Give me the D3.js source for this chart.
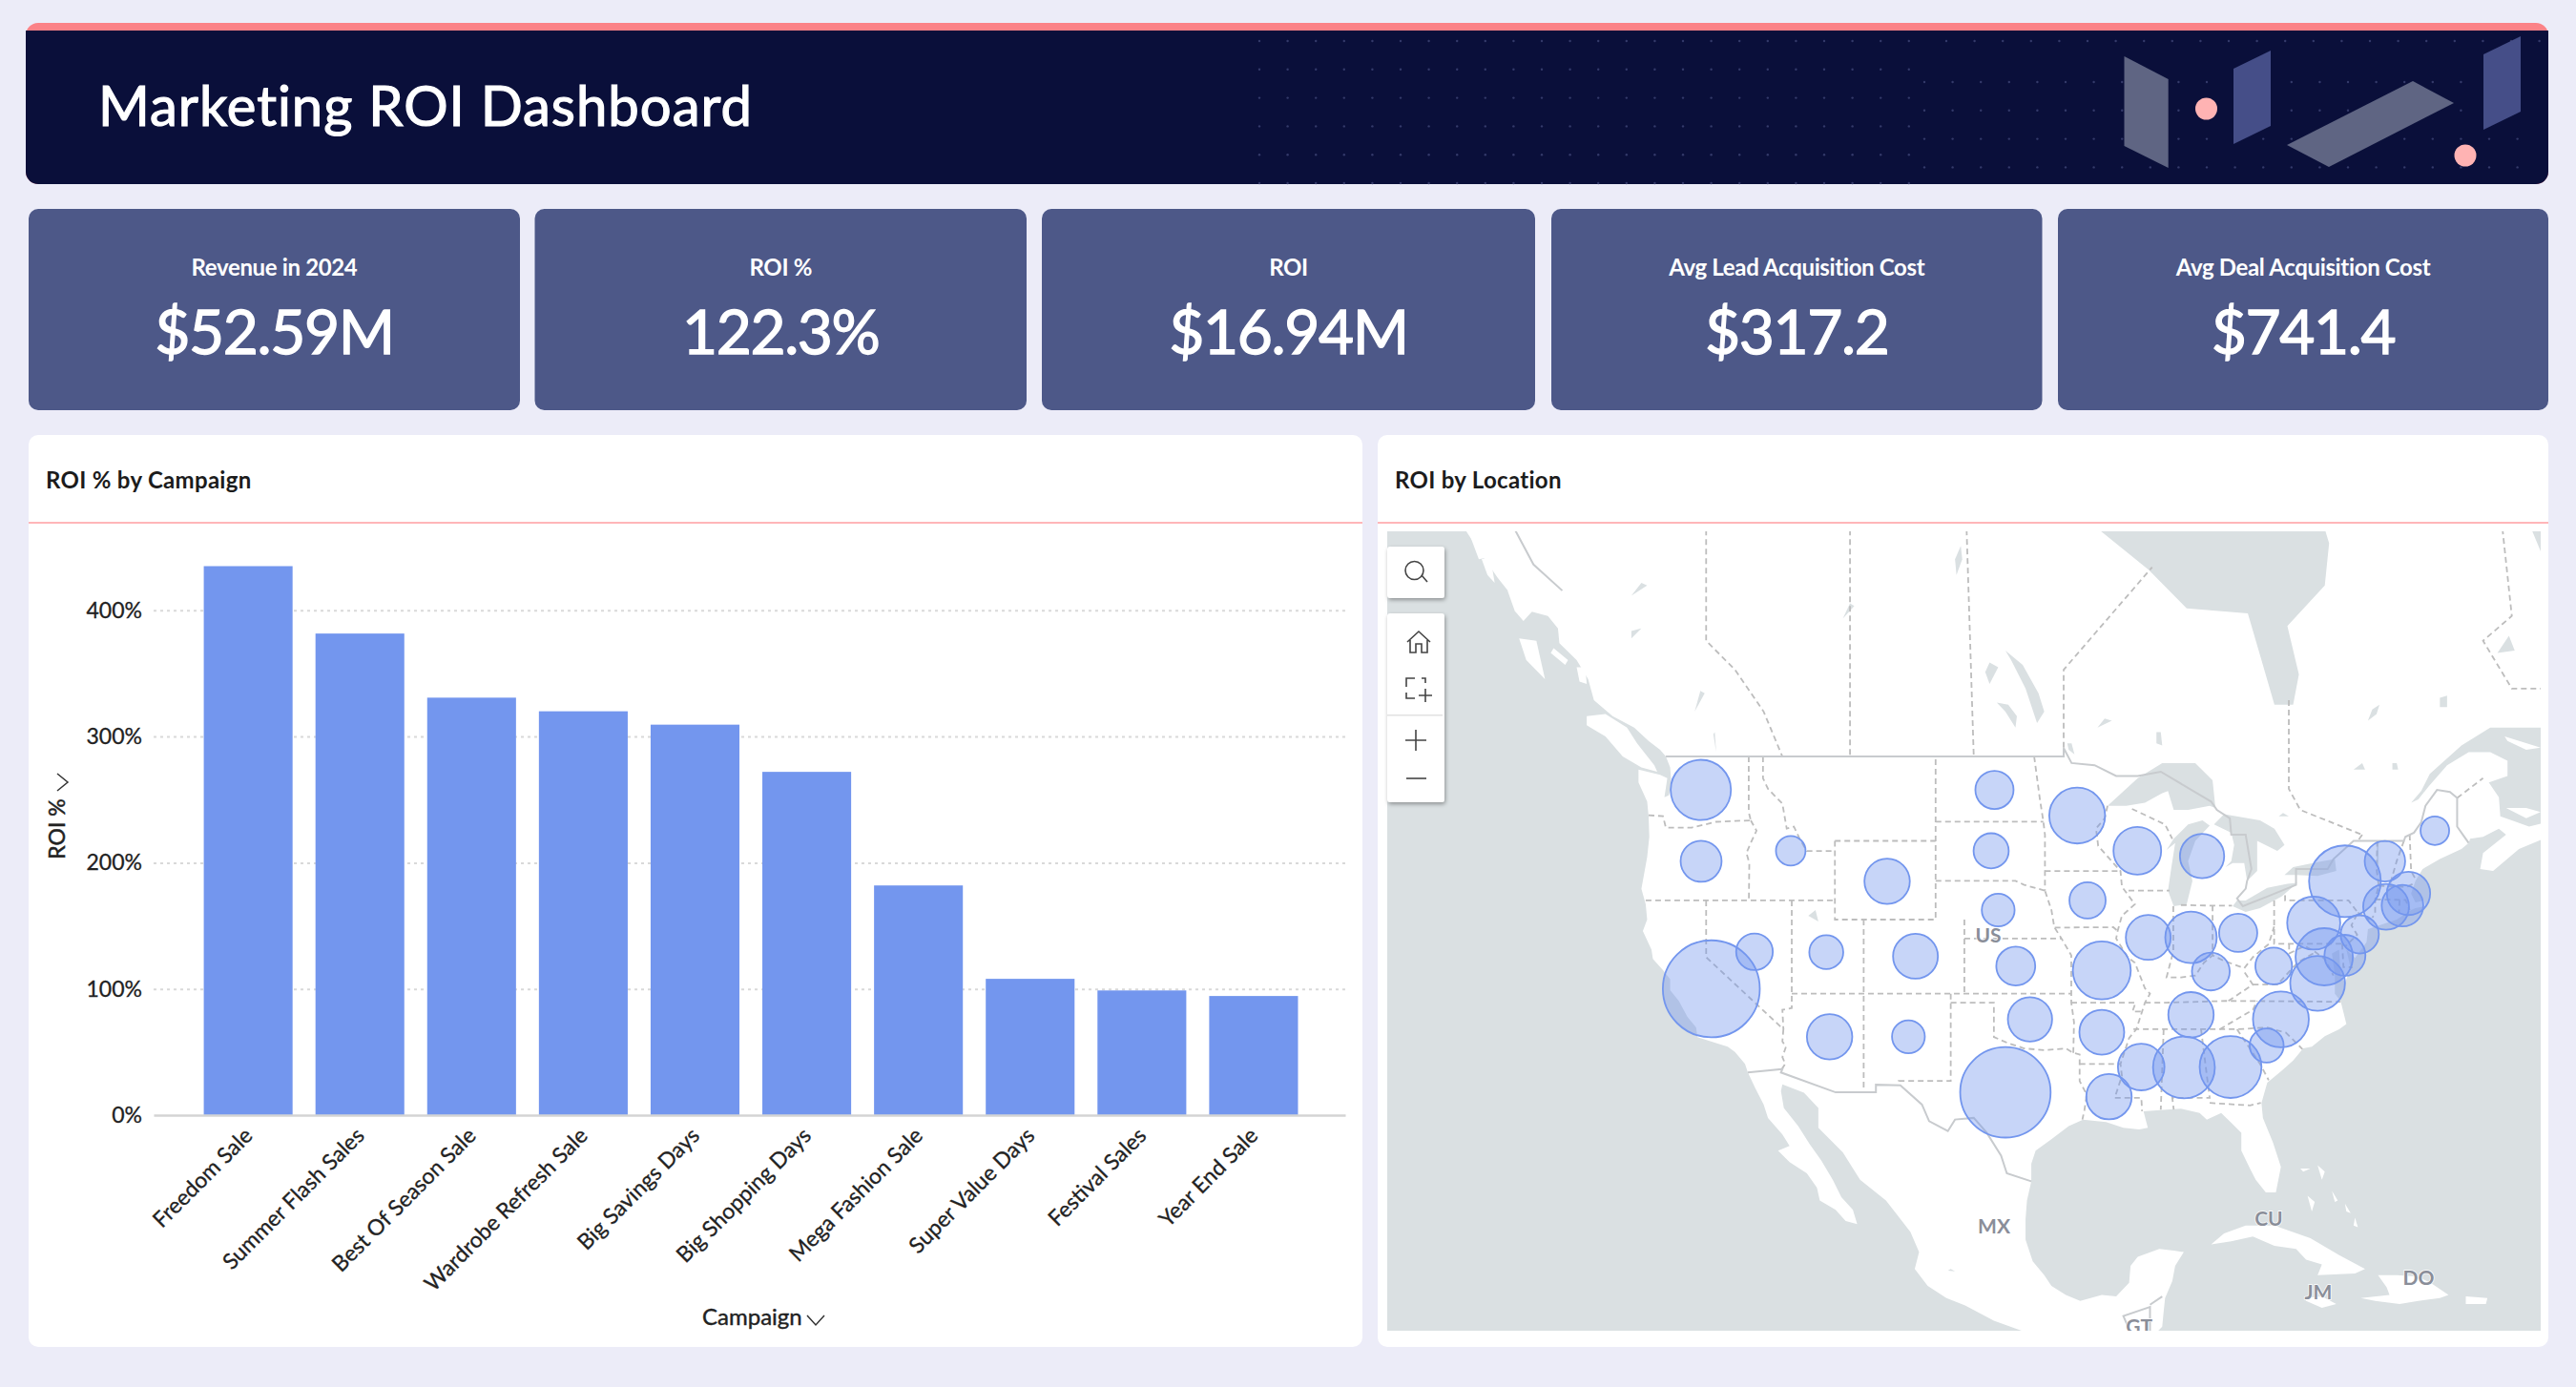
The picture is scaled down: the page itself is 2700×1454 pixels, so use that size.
<!DOCTYPE html>
<html>
<head>
<meta charset="utf-8">
<title>Marketing ROI Dashboard</title>
<script src="https://cdn.jsdelivr.net/npm/d3@7"></script>
<style>
  html, body { margin: 0; padding: 0; background: #ececf8; }
  svg { display: block; font-family: Lato, sans-serif; }
</style>
</head>
<body>
<div class="canvas"></div>
<script>
// KPI cards
const kpiLabels = ['Revenue in 2024', 'ROI %', 'ROI', 'Avg Lead Acquisition Cost', 'Avg Deal Acquisition Cost']
const kpiValues = ['$52.59M', '122.3%', '$16.94M', '$317.2', '$741.4']

// bar chart
const campaigns = ['Freedom Sale', 'Summer Flash Sales', 'Best Of Season Sale', 'Wardrobe Refresh Sale', 'Big Savings Days',
  'Big Shopping Days', 'Mega Fashion Sale', 'Super Value Days', 'Festival Sales', 'Year End Sale']
const roiPercent = [435, 381.6, 330.8, 320, 309.4, 272, 182, 108, 98.8, 94.4]
const roiTicks = [0, 100, 200, 300, 400]

// bubble map: [lon, lat] of each state and its ROI in $K
const states = ['WA', 'OR', 'ID', 'WY', 'ND', 'SD', 'NE', 'MN', 'WI', 'MI', 'IA', 'IL', 'IN', 'OH', 'KY', 'WV', 'VA', 'PA', 'NY', 'VT', 'ME', 'MA', 'CT', 'RI', 'NJ', 'DE', 'MD', 'NC', 'SC', 'GA', 'AL', 'MS', 'LA', 'AR', 'TN', 'MO', 'KS', 'OK', 'TX', 'NM', 'AZ', 'CO', 'UT', 'NV', 'CA']
const stateLonLat = [[-120.37, 47.45], [-120.35, 43.99], [-114.12, 44.51], [-107.42, 42.98], [-99.96, 47.45], [-100.19, 44.51], [-99.7, 41.5], [-94.21, 46.23], [-90.03, 44.51], [-85.53, 44.25], [-93.49, 42], [-89.27, 40.06], [-86.3, 40.06], [-83.02, 40.3], [-84.92, 38.22], [-80.55, 38.52], [-77.5, 37.57], [-77.77, 40.82], [-75.6, 42.98], [-72.82, 43.99], [-69.35, 45.5], [-71.18, 42.36], [-72.74, 41.67], [-71.6, 41.73], [-74.57, 40.22], [-75.6, 39.1], [-77.04, 39.02], [-80.05, 35.56], [-81.04, 34.07], [-83.55, 32.82], [-86.79, 32.8], [-89.76, 32.82], [-92, 31.07], [-92.5, 34.83], [-86.3, 35.82], [-92.5, 38.28], [-98.48, 38.52], [-97.49, 35.56], [-99.2, 31.33], [-105.94, 34.57], [-111.42, 34.57], [-105.45, 39.05], [-111.65, 39.27], [-116.64, 39.29], [-119.64, 37.27]]
const stateRoi = [573, 265, 138, 325, 230, 195, 170, 492, 359, 309, 207, 317, 418, 230, 225, 212, 473, 444, 812, 258, 129, 296, 331, 273, 230, 265, 517, 492, 182, 603, 603, 342, 325, 317, 325, 530, 239, 309, 1290, 170, 325, 317, 182, 212, 1482]

const countryLabels = [['US', -100.39, 40.05], ['MX', -99.99, 22.9], ['CU', -80.9, 23.4], ['JM', -77.45, 18.66], ['DO', -70.48, 19.6], ['GT', -89.9, 16.35]]

// base map outlines, all [lon, lat]
const mainland = [[-150, 62], [-145, 60.5], [-140, 59.7], [-137.5, 58.9], [-136.5, 58.1], [-135.5, 57.3], [-134.5, 56.5], [-133.5, 55.8], [-132.3, 55.2], [-131, 55], [-130.3, 54.5], [-130.2, 53.9], [-129, 53.2], [-128.2, 52.4], [-127.8, 51.5], [-126.5, 50.8], [-125, 50.3], [-124, 49.7], [-123.2, 49.3], [-122.8, 49], [-122.5, 48.5], [-122.4, 47.6], [-122.6, 47.2], [-122.9, 47.1], [-122.7, 48], [-123.2, 48.15], [-124.7, 48.4], [-124.7, 47.8], [-124.1, 46.9], [-124, 46.2], [-123.95, 45.2], [-124.1, 44.2], [-124.4, 43], [-124.5, 42.6], [-124.2, 41.8], [-124.1, 41], [-124.4, 40.4], [-123.8, 39.4], [-123.7, 38.9], [-123, 38.3], [-122.5, 37.8], [-122.5, 37.2], [-121.9, 36.6], [-121.3, 35.7], [-120.7, 35.1], [-120.6, 34.55], [-119.3, 34.2], [-118.5, 34], [-118, 33.7], [-117.3, 33], [-117.1, 32.5], [-116.6, 31.6], [-116, 30.6], [-115.7, 29.8], [-114.7, 28.8], [-114.2, 28.1], [-115, 27.8], [-114.2, 27.1], [-113, 26.4], [-112.3, 25.5], [-112.1, 24.7], [-111, 24.1], [-110.3, 23.4], [-109.5, 23.2], [-109.8, 24.1], [-110.6, 24.9], [-111.2, 26], [-112, 27.2], [-112.8, 28.2], [-113.6, 29.3], [-114.6, 30.4], [-114.8, 31.4], [-114.7, 31.8], [-113.2, 31.3], [-112.2, 30.4], [-112.2, 29.2], [-110.5, 27.7], [-109.3, 26], [-107.5, 24.7], [-105.8, 22.7], [-105.2, 21.4], [-105.5, 20.3], [-104.6, 19.2], [-103.3, 18.4], [-102, 17.9], [-100, 16.9], [-98, 16.2], [-96, 15.7], [-94.8, 16.2], [-93.5, 15.6], [-92, 14.6], [-91, 13.9], [-88, 13.2], [-85, 11], [-83.7, 10.8], [-83.5, 12.5], [-83.2, 14.9], [-84.5, 15.8], [-86, 15.9], [-88, 15.8], [-88.9, 15.9], [-88.3, 16.5], [-88.2, 17.5], [-88.1, 18.4], [-87.6, 19.5], [-87.4, 20.5], [-86.8, 21.4], [-87.5, 21.5], [-88.5, 21.6], [-90, 21.1], [-90.5, 20.5], [-90.6, 19.4], [-91.5, 18.5], [-92.5, 18.6], [-94, 18.2], [-95, 18.6], [-96, 19.2], [-96.5, 19.9], [-97.3, 20.8], [-97.8, 22.2], [-97.8, 23.5], [-97.7, 24.7], [-97.4, 25.9], [-97.4, 27], [-97.1, 27.8], [-96, 28.5], [-94.8, 29.3], [-93.8, 29.7], [-92.2, 29.55], [-91, 29.2], [-89.9, 29.1], [-89.3, 29.2], [-89.6, 30.2], [-88, 30.3], [-87, 30.35], [-85.7, 30.1], [-85.2, 29.7], [-84.2, 30.1], [-83.5, 29.5], [-82.8, 28.9], [-82.8, 27.8], [-82.2, 26.7], [-81.8, 26], [-81.1, 25.2], [-80.4, 25.2], [-80.05, 26.8], [-80.6, 28.3], [-81.3, 29.8], [-81.4, 30.7], [-81, 31.9], [-80, 32.6], [-79.2, 33.2], [-78.5, 33.9], [-77.9, 34], [-77, 34.6], [-76, 35], [-75.5, 35.3], [-75.9, 36.6], [-76.3, 37], [-76.3, 38], [-76.5, 39.2], [-76, 39.4], [-75.9, 38], [-75.6, 37.6], [-75.2, 38.4], [-75.5, 39.4], [-74.9, 38.95], [-74.1, 39.8], [-74, 40.5], [-72, 41], [-71, 41.5], [-70.7, 41.6], [-70, 41.7], [-70.1, 42], [-70.7, 41.9], [-71, 42.35], [-70.7, 43], [-70.2, 43.6], [-69, 44.1], [-67.5, 44.6], [-67, 44.9], [-66.9, 45.1], [-66, 45.2], [-64.9, 45.6], [-64.4, 45.3], [-66, 44.4], [-66.2, 43.6], [-65.3, 43.5], [-63.5, 44.6], [-61.5, 45.2], [-60, 45.9], [-60.5, 47], [-61.3, 45.95], [-62.8, 45.7], [-64, 46], [-64.8, 46.2], [-64.9, 47.1], [-65.6, 47.8], [-64.3, 48.1], [-64.3, 48.8], [-65.5, 49.2], [-67, 49.2], [-68.5, 48.6], [-69.8, 47.6], [-70.5, 47], [-71, 46.85], [-70.3, 47.4], [-69.7, 48.2], [-67.5, 49.5], [-65.5, 50.3], [-62, 50.3], [-60, 50.2], [-57, 51.5], [-55.5, 52.5], [-56, 54], [-60, 55.5], [-62, 57.5], [-64, 60], [-65, 60.5], [-70, 61], [-78, 62.5], [-78, 60], [-76.7, 57.8], [-77, 56.2], [-79.6, 54.6], [-78.8, 52.6], [-79.2, 51.3], [-80.5, 51.3], [-81.4, 53.2], [-82.35, 55.1], [-86.6, 55.3], [-89.25, 56.8], [-92.7, 58.3], [-94, 58.7], [-95, 60], [-94, 62], [-90, 64], [-95, 70], [-150, 70]]

const islands = [
  [[-128.3, 50.8], [-127, 50.9], [-125.5, 50.3], [-124.8, 49.6], [-123.6, 48.6], [-123.4, 48.3], [-124.5, 48.5], [-125.8, 49], [-127, 49.9], [-128.3, 50.4]],
  [[-133, 54.1], [-131.8, 54], [-131.2, 52.4], [-132.5, 53.2]],
  [[-136.5, 58.2], [-135, 58.1], [-134.9, 57.3], [-135.8, 57.2]],
  [[-134.7, 58], [-134, 58], [-133.9, 57.1], [-134.6, 57.1]],
  [[-135.6, 57.2], [-135, 57.3], [-134.7, 56.3], [-135.2, 56.6]],
  [[-134, 56.9], [-133, 57], [-133, 56.2], [-133.8, 56.1]],
  [[-133.8, 56], [-132.2, 56.1], [-131.9, 55.3], [-132.7, 54.8], [-133.3, 55.2]],
  [[-132.2, 56.4], [-131.6, 56.4], [-131.5, 55.4], [-131.9, 55.3]],
  [[-130.6, 53.7], [-129.6, 53.2], [-129.8, 53], [-130.8, 53.5]],
  [[-129, 52.9], [-128.4, 52.9], [-128.3, 52.2], [-128.8, 52.3]],
  [[-64.4, 46.6], [-63, 46.1], [-62, 46.4], [-63, 46.6]],
  [[-64.5, 49.9], [-62, 49.4], [-63, 49.3], [-64.3, 49.7]],
  [[-84.9, 21.9], [-84, 22.6], [-82.5, 23.1], [-80.5, 23.1], [-78, 22.3], [-76, 21.2], [-74.2, 20.3], [-74.9, 20], [-77.5, 19.9], [-77.2, 20.6], [-78.3, 20.9], [-79, 21.6], [-80.5, 21.8], [-82, 22.4], [-83.5, 22.1]],
  [[-78.4, 18.4], [-77.2, 18.5], [-76.2, 18], [-77.2, 17.75], [-78.3, 18.2]],
  [[-74.5, 18.4], [-73.5, 18.2], [-71.8, 18], [-70.5, 18.2], [-69, 18.4], [-68.4, 18.6], [-69.5, 19.3], [-70.5, 19.8], [-72, 19.9], [-73.3, 19.9], [-72.7, 19.1], [-72.5, 18.6]],
  [[-67.2, 18.5], [-65.7, 18.4], [-65.8, 18], [-67.2, 18]],
  [[-78.7, 26.7], [-78, 26.7], [-78.5, 26.5]],
  [[-77.5, 26.9], [-77, 26.5], [-77.2, 26]],
  [[-78.2, 25], [-77.7, 24.6], [-77.9, 24]],
  [[-76.5, 25.3], [-76.1, 24.7], [-76.3, 24.6]],
  [[-75.6, 24.5], [-75.2, 23.9], [-75.5, 24]],
  [[-74.9, 23.6], [-75, 23.1], [-74.7, 23]]
]

const lakes = [
  [[-92.1, 46.7], [-90, 48], [-88.3, 48.7], [-86, 48.7], [-84.8, 47.9], [-84.6, 46.6], [-85, 46.7], [-86.5, 46.5], [-87.5, 46.5], [-87.9, 47.4], [-88.3, 47.3], [-89.5, 46.85], [-90.8, 46.7]],
  [[-87.5, 41.7], [-86.6, 41.8], [-86.2, 43], [-86.5, 44], [-86, 45], [-85, 45.75], [-85.5, 46], [-86.5, 45.8], [-87.5, 45.1], [-88, 44.55], [-87.4, 44.9], [-87.7, 43.5], [-87.9, 42.5]],
  [[-84.7, 45.8], [-83.5, 45.4], [-83.3, 44.8], [-83.5, 44], [-83.9, 43.7], [-83.4, 43.9], [-82.6, 43.9], [-82.4, 43], [-81.7, 43.5], [-81.7, 45], [-80.3, 44.5], [-79.8, 44.8], [-80.5, 45.6], [-81.5, 46], [-84, 46.3]],
  [[-83.4, 41.7], [-82.5, 41.4], [-81.5, 41.6], [-80, 42.2], [-78.9, 42.9], [-79.6, 42.85], [-81, 42.65], [-82.5, 42], [-83.1, 42]],
  [[-79.8, 43.3], [-79, 43.3], [-77.5, 43.25], [-76.2, 43.5], [-76.3, 44.1], [-77.5, 43.95], [-79.2, 43.7]],
  [[-97, 50.5], [-96.5, 51], [-96.9, 51.8], [-98, 53], [-99.2, 53.6], [-98.8, 53.2], [-97.8, 52]],
  [[-98.5, 50.3], [-99.2, 51], [-99.8, 51.4], [-99, 51.3], [-98.4, 50.8]],
  [[-100.3, 52.2], [-99.7, 52.9], [-100.3, 53.1], [-100.6, 52.7]],
  [[-102.6, 56.6], [-102.2, 57.2], [-102.3, 57.7], [-102.7, 57.2]],
  [[-88.7, 49.6], [-88.3, 49.5], [-88.4, 50.1], [-88.7, 50.1]],
  [[-94.8, 49.3], [-94.4, 49.1], [-94.6, 49.6], [-94.9, 49.6]],
  [[-92.8, 50.3], [-91.8, 50.6], [-92.3, 50.7]],
  [[-74, 50.6], [-73.4, 50.9], [-73.2, 51.3], [-73.7, 51.1]],
  [[-72.3, 48.4], [-71.9, 48.4], [-72, 48.7], [-72.3, 48.7]],
  [[-75, 48.4], [-74.2, 48.4], [-74.4, 48.7]],
  [[-80.2, 46.2], [-79.5, 46.2], [-79.9, 46.35]],
  [[-69, 51.2], [-68.5, 51.2], [-68.5, 51.7], [-69, 51.6]],
  [[-65, 53.5], [-63.8, 53.6], [-64.2, 54.2]],
  [[-112.9, 41.2], [-112.2, 40.9], [-112.4, 41.5]],
  [[-73.4, 43.8], [-73.25, 43.7], [-73.25, 45], [-73.4, 45]],
  [[-119.3, 49.2], [-119.5, 50], [-119.4, 50.1]],
  [[-120.8, 51], [-120.1, 51.8], [-120.4, 51.9]],
  [[-125.2, 54.1], [-124.5, 54.5], [-125.2, 54.4]],
  [[-125.2, 55.8], [-124.1, 56.2], [-124.5, 56.3]],
  [[-110.5, 54.9], [-109.7, 55.4], [-110, 55.5]],
  [[-103.2, 20.2], [-102.7, 20.15], [-103, 20.3]]
]

const countryBorders = [
  [[-122.8, 49], [-95.15, 49], [-95.15, 49.38], [-94.6, 48.7], [-93, 48.6], [-91.5, 48.1], [-90, 48.1], [-88.4, 48.3], [-84.9, 46.9], [-84.5, 46.5], [-83.6, 46.1], [-83.5, 45.3], [-82.5, 45.3], [-82.1, 43.6], [-82.4, 43], [-82.5, 42.6], [-83.1, 42.1], [-82.7, 41.7], [-81, 42.2], [-79, 42.8], [-79, 43.27], [-79, 43.6], [-76.8, 43.6], [-76.4, 44.1], [-75, 45], [-74.7, 45], [-71.5, 45], [-71.4, 45.2], [-70.8, 45.4], [-70.3, 45.9], [-70, 46.7], [-69.2, 47.45], [-68.3, 47.35], [-67.8, 47.07], [-67.8, 45.7], [-67.4, 45.3], [-67, 44.9]],
  [[-117.1, 32.5], [-114.7, 32.7], [-114.8, 32.5], [-111, 31.33], [-108.2, 31.33], [-108.2, 31.78], [-106.5, 31.75], [-105, 30.6], [-104.5, 29.6], [-103.2, 29], [-102.7, 29.7], [-101.4, 29.8], [-100.5, 28.9], [-99.5, 27.5], [-99.1, 26.4], [-97.4, 25.9]],
  [[-92.2, 14.5], [-91.7, 16], [-90.5, 16.1], [-91, 17.2], [-89.15, 17.8], [-89.15, 15.9]],
  [[-89.15, 17.95], [-88.3, 18.5]],
  [[-141, 60], [-141, 59.9], [-137.5, 58.9]],
  [[-137.5, 58.9], [-135.5, 59.7], [-133.5, 58.5], [-132, 57], [-130, 56]]
]

const stateBorders = [
  [[-124, 46.25], [-123, 46.2], [-122.8, 45.65], [-121, 45.65], [-119.3, 45.93], [-116.9, 46]],
  [[-117.04, 49], [-117.04, 46.4], [-116.9, 46]],
  [[-116.9, 46], [-116.5, 45.5], [-116.9, 44.9], [-117.2, 44.4], [-117, 43.9], [-117.03, 42]],
  [[-124.2, 42], [-111.05, 42]],
  [[-116.05, 49], [-116.05, 48], [-115.7, 47.5], [-114.7, 46.8], [-114.4, 45.6], [-113.9, 45.7], [-113.5, 45.1], [-113, 44.5], [-111.5, 44.5], [-111.05, 44.5]],
  [[-111.05, 45], [-111.05, 41], [-104.05, 41], [-104.05, 49]],
  [[-111.05, 45], [-104.05, 45]],
  [[-114.05, 42], [-114.05, 36.2], [-114.7, 36.1], [-114.63, 35]],
  [[-109.05, 41], [-109.05, 31.33]],
  [[-120, 42], [-120, 39], [-114.63, 35], [-114.7, 34.3], [-114.45, 34], [-114.7, 33.4], [-114.5, 33], [-114.72, 32.72]],
  [[-114.05, 37], [-94.62, 37]],
  [[-102.05, 41], [-102.05, 37]],
  [[-103, 37], [-103, 32], [-106.6, 32], [-106.5, 31.75]],
  [[-103, 36.5], [-100, 36.5], [-100, 34.56], [-99, 34.2], [-97.9, 33.9], [-96.5, 33.8], [-95, 33.9], [-94.48, 33.64], [-94.04, 33.55], [-94.04, 32], [-93.55, 31.2], [-93.7, 30.3], [-93.85, 29.7]],
  [[-94.48, 33.64], [-94.43, 35.4], [-94.62, 36.5], [-94.62, 39.1], [-95.3, 40], [-95.8, 40.6], [-96, 41.5], [-96.45, 42.5]],
  [[-102.05, 40], [-95.3, 40]],
  [[-104.05, 43], [-98.5, 43], [-97.9, 42.8], [-96.45, 42.5]],
  [[-104.05, 45.94], [-96.56, 45.94]],
  [[-97.2, 49], [-96.8, 47], [-96.56, 45.94], [-96.45, 45.3], [-96.45, 42.5]],
  [[-96.45, 43.5], [-91.2, 43.5]],
  [[-95.77, 40.58], [-91.7, 40.6], [-91.4, 40.4]],
  [[-92.1, 46.7], [-92.3, 46.1], [-92.9, 45.6], [-92.75, 44.75], [-91.2, 43.5], [-91.1, 42.7], [-90.2, 41.8], [-91.1, 41.2], [-91.4, 40.4], [-91.5, 40], [-90.7, 39], [-90.2, 38.7], [-89.5, 37.3], [-89.15, 37], [-89.5, 36.5], [-90.1, 35], [-90.6, 34.5], [-91.2, 33], [-91.1, 32.3], [-91.6, 31], [-89.75, 31], [-89.7, 30.2]],
  [[-94.62, 36.5], [-90.15, 36.5], [-90.37, 36], [-89.7, 36]],
  [[-90.64, 42.5], [-87.8, 42.5]],
  [[-90.4, 46.55], [-88.1, 45.8], [-87.6, 45.1]],
  [[-87.53, 41.7], [-87.53, 39.3], [-88, 37.9], [-87, 37.9], [-86, 38], [-85.4, 38.7], [-84.8, 39.1], [-84, 38.8], [-82.6, 38.4], [-82, 39], [-80.9, 39.7], [-80.52, 40.64]],
  [[-89.5, 36.5], [-88, 36.5], [-83.7, 36.6], [-75.9, 36.55]],
  [[-83.7, 36.6], [-82, 37.5], [-82.6, 38.2]],
  [[-84.8, 41.73], [-84.8, 39.1]],
  [[-87, 41.76], [-84.8, 41.73], [-83.45, 41.73]],
  [[-80.52, 42], [-80.52, 39.72], [-75.79, 39.72]],
  [[-79.76, 42.27], [-79.76, 42], [-75.35, 42], [-74.7, 41.36], [-75.15, 40.7], [-74.75, 40.2], [-75.55, 39.6]],
  [[-74.7, 41.36], [-73.9, 41]],
  [[-73.35, 45], [-73.4, 43.6], [-73.25, 42.75], [-73.5, 42.05], [-73.5, 41.3], [-73.7, 41.1]],
  [[-73.5, 42.05], [-71.38, 42.02], [-71.1, 41.5]],
  [[-71.8, 42.02], [-71.85, 41.32]],
  [[-73.25, 42.75], [-71.3, 42.7], [-70.8, 42.87]],
  [[-71.5, 45], [-72, 44], [-72.5, 42.75]],
  [[-71.1, 45.3], [-71, 43.5], [-70.7, 43.1]],
  [[-79.48, 39.72], [-79.48, 39.2], [-78.4, 39.6], [-77.7, 39.3], [-77, 38.9], [-76.4, 38]],
  [[-82, 37.5], [-80.3, 37.5], [-78.9, 38.7], [-77.8, 39.2]],
  [[-84.3, 35], [-82, 36.1], [-81.7, 36.6]],
  [[-90.3, 35], [-83.1, 35], [-81, 35.1], [-79.7, 34.8], [-78.55, 33.86]],
  [[-83.1, 35], [-81.5, 33], [-80.9, 32.05]],
  [[-85, 30.7], [-82.2, 30.55], [-81.45, 30.7]],
  [[-85.6, 35], [-85.15, 32], [-85, 31], [-87.6, 31], [-87.5, 30.3]],
  [[-88.2, 35], [-88.4, 30.3]],
  [[-94.04, 33], [-91.2, 33]],
  [[-75.79, 39.72], [-75.7, 38.46], [-75.05, 38.45]],
  // Canadian provinces
  [[-120, 60], [-120, 54], [-118, 52.8], [-116, 51], [-114.7, 49]],
  [[-110, 60], [-110, 49]],
  [[-102, 60], [-101.4, 49]],
  [[-95.15, 49.4], [-95.15, 52.8], [-89, 56.9]],
  [[-79.5, 51.5], [-79.5, 47.5], [-78.7, 46.5], [-74.4, 45.3]],
  [[-67.8, 47.07], [-66, 48]],
  [[-57, 52], [-64, 52], [-66, 54], [-64, 55], [-65, 60]],
  [[-74.4, 45.3], [-74.7, 45]]
]

// layout
const bg = '#ececf8'
const barColor = '#7396ee'
const width = 2700
const height = 1454

const svg = d3.select('.canvas')
  .append('svg')
  .attr('width', width)
  .attr('height', height)

svg.append('rect').attr('width', width).attr('height', height).attr('fill', bg)

// Header band
const header = svg.append('g')
header.append('rect').attr('x', 27).attr('y', 24).attr('width', 2644).attr('height', 169).attr('rx', 13).attr('fill', '#fb8287')
header.append('path')
  .attr('d', 'M27 32H2671V180a13 13 0 0 1-13 13H40a13 13 0 0 1-13-13Z')
  .attr('fill', '#0a0f3a')

// faint dot pattern
const dotGrid = (xs, ys) => xs.flatMap(x => ys.map(y => [x, y]))
header.selectAll('circle.dot')
  .data([
    ...dotGrid(d3.range(1320, 2005, 29.6), d3.range(43, 193, 29.8)),
    ...dotGrid(d3.range(2017, 2668, 29.6), d3.range(86, 193, 29.8)),
    ...dotGrid(d3.range(2040, 2668, 29.6), [43])
  ])
  .enter()
  .append('circle')
  .attr('class', 'dot')
  .attr('cx', d => d[0])
  .attr('cy', d => d[1])
  .attr('r', 1.2)
  .attr('fill', '#343a6a')

const shapes = [
  ['M2226.5 59L2272.7 83V176L2226.5 153Z', '#5f6583'],
  ['M2341 72L2380 53V132L2341 151Z', '#454e88'],
  ['M2529 85L2572 108L2441 175L2397 152Z', '#5f6583'],
  ['M2603 57L2642 38V117L2603 136Z', '#454e88']
]
shapes.forEach(s => header.append('path').attr('d', s[0]).attr('fill', s[1]))
header.append('circle').attr('cx', 2312.5).attr('cy', 114).attr('r', 11.5).attr('fill', '#ffb3b3')
header.append('circle').attr('cx', 2584).attr('cy', 163).attr('r', 11.5).attr('fill', '#ffb3b3')

header.append('text')
  .attr('x', 103).attr('y', 132)
  .attr('font-size', 58).attr('fill', '#fff')
  .attr('stroke', '#fff').attr('stroke-width', 1.2)
  .attr('letter-spacing', 1)
  .text('Marketing ROI Dashboard')

// KPI cards
const cardX = [30, 560.5, 1092, 1626, 2157]
const cardW = [515, 515.5, 517, 514.5, 514]
const cards = svg.selectAll('g.card')
  .data(kpiLabels)
  .enter()
  .append('g')
  .attr('class', 'card')
  .attr('transform', (d, i) => `translate(${cardX[i]}, 219)`)

cards.append('rect')
  .attr('width', (d, i) => cardW[i])
  .attr('height', 211)
  .attr('rx', 10)
  .attr('fill', '#4d5888')

cards.append('text')
  .attr('x', (d, i) => cardW[i] / 2)
  .attr('y', 70)
  .attr('text-anchor', 'middle')
  .attr('font-size', 24).attr('font-weight', 700).attr('fill', '#fff')
  .attr('letter-spacing', -0.35)
  .text(d => d)

cards.append('text')
  .attr('x', (d, i) => cardW[i] / 2)
  .attr('y', 152)
  .attr('text-anchor', 'middle')
  .attr('font-size', 64).attr('fill', '#fff')
  .attr('stroke', '#fff').attr('stroke-width', 1.3)
  .attr('letter-spacing', -1.4)
  .text((d, i) => kpiValues[i])

// Panels
const panels = [
  { x: 30, w: 1398, title: 'ROI % by Campaign', textX: 48 },
  { x: 1444, w: 1227, title: 'ROI by Location', textX: 1462 }
]
panels.forEach(p => {
  svg.append('rect').attr('x', p.x).attr('y', 456).attr('width', p.w).attr('height', 956).attr('rx', 10).attr('fill', '#fff')
  svg.append('rect').attr('x', p.x).attr('y', 547).attr('width', p.w).attr('height', 2).attr('fill', '#ffb6b8')
  svg.append('text')
    .attr('x', p.textX).attr('y', 512)
    .attr('font-size', 24).attr('font-weight', 700).attr('fill', '#1c1c1c')
    .attr('letter-spacing', 0.3)
    .text(p.title)
})

// Bar chart
const chart = svg.append('g')
const plotLeft = 161
const plotRight = 1410
const plotBottom = 1169
const pxPerPercent = 1.323

const y = d3.scaleLinear()
  .domain([0, 450])
  .range([plotBottom, plotBottom - 450 * pxPerPercent])

const x = d3.scaleBand()
  .domain(campaigns)
  .range([plotLeft, plotRight])
  .paddingInner(0.205)
  .paddingOuter(0.436)
  .align(0.515)

// gridlines come from a long-tick axis
const gridAxis = d3.axisLeft(y).tickValues(roiTicks.slice(1)).tickSize(plotLeft - plotRight).tickFormat('')
const gridGroup = chart.append('g').attr('transform', `translate(${plotLeft}, 0)`).call(gridAxis)
gridGroup.select('.domain').remove()
gridGroup.selectAll('line')
  .attr('stroke', '#d9d9d9')
  .attr('stroke-width', 2)
  .attr('stroke-dasharray', '3 4')

chart.selectAll('rect.bar')
  .data(campaigns)
  .enter()
  .append('rect')
  .attr('class', 'bar')
  .attr('x', d => x(d))
  .attr('width', x.bandwidth())
  .attr('y', (d, i) => y(roiPercent[i]))
  .attr('height', (d, i) => plotBottom - y(roiPercent[i]))
  .attr('fill', barColor)

const yAxisGroup = chart.append('g')
  .attr('transform', `translate(${plotLeft}, 0)`)
  .call(d3.axisLeft(y).tickValues(roiTicks).tickSize(0).tickPadding(12).tickFormat(d => `${d}%`))
yAxisGroup.select('.domain').remove()
yAxisGroup.selectAll('text')
  .attr('font-family', 'Lato').attr('font-size', 23).attr('fill', '#222')
  .attr('stroke', '#222').attr('stroke-width', 0.3)

const xAxisGroup = chart.append('g')
  .attr('transform', `translate(0, ${plotBottom})`)
  .call(d3.axisBottom(x).tickSize(0))
xAxisGroup.select('.domain').attr('stroke', '#d4d4d4').attr('stroke-width', 2.5)
xAxisGroup.selectAll('text')
  .attr('font-family', 'Lato').attr('font-size', 23).attr('fill', '#222')
  .attr('stroke', '#222').attr('stroke-width', 0.3)
  .attr('text-anchor', 'end')
  .attr('x', 0).attr('y', 0).attr('dy', 0)
  .attr('transform', 'translate(6, 23) rotate(-45)')

const yTitle = chart.append('g').attr('transform', 'translate(68, 869) rotate(-90)')
yTitle.append('text')
  .attr('text-anchor', 'middle')
  .attr('font-size', 23).attr('fill', '#222')
  .attr('stroke', '#222').attr('stroke-width', 0.5)
  .text('ROI %')
chart.append('path')
  .attr('d', 'M60 811L71 820L60 829')
  .attr('fill', 'none').attr('stroke', '#333').attr('stroke-width', 1.5)

chart.append('text')
  .attr('x', 736).attr('y', 1389)
  .attr('font-size', 24).attr('fill', '#222')
  .attr('stroke', '#222').attr('stroke-width', 0.4)
  .text('Campaign')
chart.append('path')
  .attr('d', 'M846 1379L855 1389L864 1379')
  .attr('fill', 'none').attr('stroke', '#333').attr('stroke-width', 1.5)

// Bubble map
const mapX = 1454
const mapY = 557
const mapW = 1209
const mapH = 838

const projection = d3.geoMercator()
  .scale(864)
  .rotate([95.15, 0])
  .translate([2163, 793 + 864 * Math.log(Math.tan(Math.PI / 4 + (49 * Math.PI / 180) / 2))])

const ringPath = closed => d3.line().curve(closed ? d3.curveLinearClosed : d3.curveLinear)

svg.append('clipPath').attr('id', 'map-clip')
  .append('rect').attr('x', mapX).attr('y', mapY).attr('width', mapW).attr('height', mapH)

const map = svg.append('g').attr('clip-path', 'url(#map-clip)')
const ocean = '#dae0e2'

map.append('rect').attr('x', mapX).attr('y', mapY).attr('width', mapW).attr('height', mapH).attr('fill', ocean)

map.selectAll('path.land')
  .data([mainland, ...islands])
  .enter()
  .append('path')
  .attr('class', 'land')
  .attr('d', d => ringPath(true)(d.map(p => projection(p))))
  .attr('fill', '#fff')

map.selectAll('path.lake')
  .data(lakes)
  .enter()
  .append('path')
  .attr('class', 'lake')
  .attr('d', d => ringPath(true)(d.map(p => projection(p))))
  .attr('fill', ocean)

map.selectAll('path.state-border')
  .data(stateBorders)
  .enter()
  .append('path')
  .attr('class', 'state-border')
  .attr('d', d => ringPath(false)(d.map(p => projection(p))))
  .attr('fill', 'none')
  .attr('stroke', '#bdbdbd')
  .attr('stroke-width', 1.8)
  .attr('stroke-dasharray', '6 4')

map.selectAll('path.country-border')
  .data(countryBorders)
  .enter()
  .append('path')
  .attr('class', 'country-border')
  .attr('d', d => ringPath(false)(d.map(p => projection(p))))
  .attr('fill', 'none')
  .attr('stroke', '#c8cbce')
  .attr('stroke-width', 2)

map.selectAll('text.country')
  .data(countryLabels)
  .enter()
  .append('text')
  .attr('class', 'country')
  .attr('x', d => projection([d[1], d[2]])[0])
  .attr('y', d => projection([d[1], d[2]])[1])
  .attr('text-anchor', 'middle')
  .attr('dominant-baseline', 'middle')
  .attr('font-size', 21).attr('font-weight', 700)
  .attr('fill', '#8a8e99')
  .attr('stroke', '#fff').attr('stroke-width', 1.5).attr('paint-order', 'stroke')
  .text(d => d[0])

const radius = d3.scaleSqrt().domain([0, d3.max(stateRoi)]).range([0, 50.8])

map.selectAll('circle.bubble')
  .data(states)
  .enter()
  .append('circle')
  .attr('class', 'bubble')
  .attr('cx', (d, i) => projection(stateLonLat[i])[0])
  .attr('cy', (d, i) => projection(stateLonLat[i])[1])
  .attr('r', (d, i) => radius(stateRoi[i]))
  .attr('fill', barColor)
  .attr('fill-opacity', 0.4)
  .attr('stroke', barColor)
  .attr('stroke-width', 1.8)

// Map controls
const controls = svg.append('g')
svg.append('filter').attr('id', 'ctl-shadow')
  .append('feDropShadow')
  .attr('dx', 1).attr('dy', 2).attr('stdDeviation', 2).attr('flood-color', '#000').attr('flood-opacity', 0.35)
controls.append('rect').attr('x', 1454).attr('y', 573).attr('width', 60).attr('height', 54).attr('rx', 3).attr('fill', '#fff').attr('filter', 'url(#ctl-shadow)')
controls.append('rect').attr('x', 1454).attr('y', 643).attr('width', 60).attr('height', 198).attr('rx', 3).attr('fill', '#fff').attr('filter', 'url(#ctl-shadow)')
controls.append('rect').attr('x', 1454).attr('y', 749).attr('width', 58).attr('height', 1.5).attr('fill', '#e2e2e2')

const iconPaths = [
  'M1496 610L1490 603M1492 598a9.5 9.5 0 1 1-19 0a9.5 9.5 0 1 1 19 0',
  'M1475 673L1487 662L1499 673M1478 671V684H1484V675H1490V684H1496V671',
  'M1474 720V711H1483M1490 711H1494V716M1474 726V732H1483M1494 722V736M1487 729H1501',
  'M1473 776H1495M1484 765V787',
  'M1474 816H1495'
]
iconPaths.forEach(d => {
  controls.append('path').attr('d', d).attr('fill', 'none').attr('stroke', '#444').attr('stroke-width', 1.6)
})
</script>
</body>
</html>
